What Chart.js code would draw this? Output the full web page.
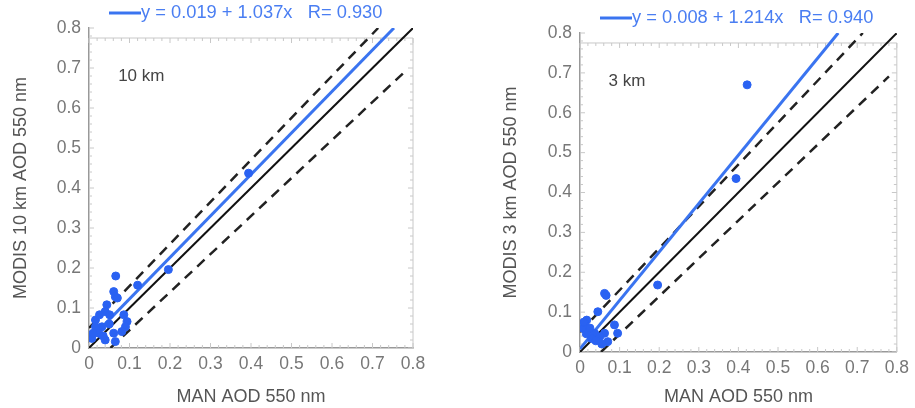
<!DOCTYPE html>
<html>
<head>
<meta charset="utf-8">
<script src="https://cdn.jsdelivr.net/npm/chart.js@4.4.1/dist/chart.umd.min.js"></script>
<style>
  html, body { margin: 0; padding: 0; background: #fff; }
  #wrap { position: relative; width: 915px; height: 408px; }
  .panel { position: absolute; top: 0; height: 408px; }
</style>
</head>
<body>
<div id="wrap">
  <div class="panel" style="left:0;width:460px"><canvas id="chart10" width="460" height="408"></canvas></div>
  <div class="panel" style="left:460px;width:455px"><canvas id="chart3" width="455" height="408"></canvas></div>
</div>
<script>
// axis ticks (both panels share the same 0..0.8 range)
const tickValues = [0, 0.1, 0.2, 0.3, 0.4, 0.5, 0.6, 0.7, 0.8];
const tickLabels = ['0', '0.1', '0.2', '0.3', '0.4', '0.5', '0.6', '0.7', '0.8'];

// 10 km panel: MAN AOD vs MODIS AOD
const man10 = [0.066, 0.061, 0.065, 0.070, 0.044, 0.040, 0.016, 0.086, 0.094, 0.090, 0.032, 0.016,
               0.024, 0.007, 0.040, 0.065, 0.061, 0.081, 0.120, 0.196, 0.394, 0.010, 0.035, 0.051, 0.026, 0.050];
const modis10 = [0.180, 0.141, 0.128, 0.125, 0.108, 0.091, 0.070, 0.083, 0.066, 0.053, 0.053, 0.053,
                 0.037, 0.024, 0.020, 0.016, 0.037, 0.041, 0.157, 0.196, 0.437, 0.037, 0.030, 0.083, 0.083, 0.060];
const fit10 = { x: [0, 0.753], y: [0.019, 0.8] };
const fitLabel10 = 'y = 0.019 + 1.037x   R= 0.930';

// 3 km panel
const man3 = [0.422, 0.394, 0.196, 0.062, 0.066, 0.045, 0.017, 0.012, 0.021, 0.008, 0.087, 0.095,
              0.070, 0.062, 0.037, 0.029, 0.050, 0.016, 0.025, 0.010, 0.040, 0.055];
const modis3 = [0.670, 0.435, 0.168, 0.147, 0.142, 0.101, 0.080, 0.068, 0.055, 0.059, 0.068, 0.047,
                0.026, 0.047, 0.047, 0.034, 0.038, 0.046, 0.060, 0.075, 0.028, 0.020];
const fit3 = { x: [0, 0.652], y: [0.008, 0.8] };
const fitLabel3 = 'y = 0.008 + 1.214x   R= 0.940';

// reference lines: 1:1 and the expected error envelope
const oneToOne = { x: [0, 0.8], y: [0, 0.8] };
const envUpper = { x: [0, 0.714], y: [0.05, 0.8] };
const envLower = { x: [0.053, 0.78], y: [0, 0.691] };

const FONT = "'Liberation Sans', Arial, sans-serif";
const BLUE = '#3a74f0';
const DOT = '#2a62f2';
const FRAME_TOP = 0.775;

function pts(xs, ys) {
  return xs.map((v, i) => ({ x: v, y: ys[i] }));
}

// light box with inward minor ticks, like the original plot frame
const framePlugin = {
  id: 'frame',
  beforeDatasetsDraw(chart) {
    const { ctx, scales: { x, y } } = chart;
    const x0 = x.getPixelForValue(0), x1 = x.getPixelForValue(0.8);
    const y0 = y.getPixelForValue(0), yTop = y.getPixelForValue(FRAME_TOP);
    ctx.save();
    ctx.strokeStyle = '#c8c8c8';
    ctx.lineWidth = 1;
    ctx.beginPath();
    ctx.moveTo(x0, yTop); ctx.lineTo(x1, yTop); ctx.lineTo(x1, y0);
    for (let i = 0; i <= 40; i++) {
      const v = i * 0.02;
      const len = i % 5 === 0 ? 5 : 3;
      const px = x.getPixelForValue(v);
      ctx.moveTo(px, yTop); ctx.lineTo(px, yTop + len);
      ctx.moveTo(px, y0); ctx.lineTo(px, y0 - len);
      const py = y.getPixelForValue(v);
      if (v <= FRAME_TOP) { ctx.moveTo(x1, py); ctx.lineTo(x1 - len, py); }
      ctx.moveTo(x0, py); ctx.lineTo(x0 + len, py);
    }
    ctx.stroke();
    ctx.restore();
  },
  afterDraw(chart, args, opts) {
    const { ctx, chartArea, scales: { x, y } } = chart;
    ctx.save();
    // legend: line sample + fit text
    const lx = chartArea.left + opts.legendDx, ly = chartArea.top - opts.legendDy;
    ctx.strokeStyle = BLUE;
    ctx.lineWidth = 3;
    ctx.beginPath();
    ctx.moveTo(lx, ly); ctx.lineTo(lx + 32, ly);
    ctx.stroke();
    ctx.font = '18.3px ' + FONT;
    ctx.fillStyle = '#4a7ef2';
    ctx.textBaseline = 'middle';
    ctx.fillText(opts.legendText, lx + 32, ly);
    // panel label
    ctx.font = '17px ' + FONT;
    ctx.fillStyle = '#444';
    ctx.fillText(opts.panelLabel, x.getPixelForValue(0.072), y.getPixelForValue(0.68));
    ctx.restore();
  }
};

function makeChart(id, man, modis, fit, legendText, panelLabel, yTitle, lay) {
  return new Chart(document.getElementById(id), {
    type: 'scatter',
    data: {
      datasets: [
        { data: pts(man, modis), backgroundColor: DOT, borderColor: DOT, pointRadius: 4, order: 0 },
        { type: 'line', data: pts(fit.x, fit.y), borderColor: BLUE, borderWidth: 3, pointRadius: 0, order: 1 },
        { type: 'line', data: pts(oneToOne.x, oneToOne.y), borderColor: '#111', borderWidth: 2, pointRadius: 0, order: 2 },
        { type: 'line', data: pts(envUpper.x, envUpper.y), borderColor: '#222', borderWidth: 2.5, borderDash: [10, 7], pointRadius: 0, order: 3 },
        { type: 'line', data: pts(envLower.x, envLower.y), borderColor: '#222', borderWidth: 2.5, borderDash: [10, 7], pointRadius: 0, order: 3 }
      ]
    },
    options: {
      responsive: false,
      animation: false,
      layout: { padding: { top: lay.top, right: lay.right, left: 0, bottom: 0 } },
      plugins: {
        legend: { display: false },
        tooltip: { enabled: false },
        frame: { legendText: legendText, panelLabel: panelLabel, legendDx: 20, legendDy: 15 }
      },
      scales: {
        x: {
          type: 'linear', min: 0, max: 0.8,
          afterBuildTicks: s => { s.ticks = tickValues.map(v => ({ value: v })); },
          afterFit: s => { s.height = lay.xh; },
          grid: { display: false, drawTicks: false },
          border: { color: '#999', width: 1.5 },
          ticks: { padding: 6, color: '#777', font: { family: FONT, size: 17.5 }, callback: (v, i) => tickLabels[i] },
          title: { display: true, text: 'MAN AOD 550 nm', color: '#555', font: { family: FONT, size: 18 }, padding: { top: lay.xtp, bottom: 0 } }
        },
        y: {
          type: 'linear', min: 0, max: 0.8,
          afterBuildTicks: s => { s.ticks = tickValues.map(v => ({ value: v })); },
          afterFit: s => { s.width = lay.yw; },
          grid: { display: false, drawTicks: false },
          border: { color: '#999', width: 1.5 },
          ticks: { padding: 8, color: '#777', font: { family: FONT, size: 17.5 }, callback: (v, i) => tickLabels[i] },
          title: { display: true, text: yTitle, color: '#555', font: { family: FONT, size: 18 }, padding: { top: lay.ytp, bottom: 0 } }
        }
      }
    },
    plugins: [framePlugin]
  });
}

makeChart('chart10', man10, modis10, fit10, fitLabel10, '10 km', 'MODIS 10 km AOD 550 nm',
  { top: 28, right: 47, xh: 60, yw: 89, xtp: 3, ytp: 10 });
makeChart('chart3', man3, modis3, fit3, fitLabel3, '3 km', 'MODIS 3 km AOD 550 nm',
  { top: 33, right: 12, xh: 56, yw: 120, xtp: 0, ytp: 40 });
</script>
</body>
</html>
